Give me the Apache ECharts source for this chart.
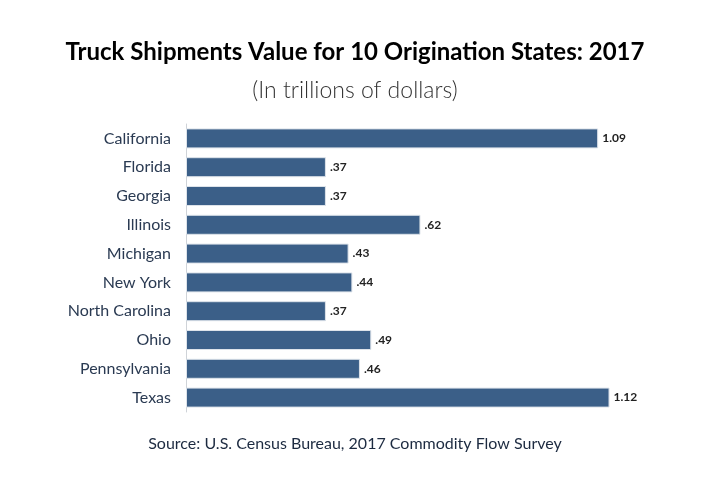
<!DOCTYPE html>
<html><head><meta charset="utf-8">
<script src="https://cdn.jsdelivr.net/npm/echarts@6/dist/echarts.min.js"></script>
<style>html,body{margin:0;padding:0;background:#fff}#c{width:710px;height:485px}</style>
</head><body><div id="c"></div>
<script>
const categories = ["California","Florida","Georgia","Illinois","Michigan","New York","North Carolina","Ohio","Pennsylvania","Texas"];
const values = [1.09,0.37,0.37,0.62,0.43,0.44,0.37,0.49,0.46,1.12];
const labels = ["1.09",".37",".37",".62",".43",".44",".37",".49",".46","1.12"];

const chart = echarts.init(document.getElementById('c'));
chart.setOption({
  animation:false,
  title:[
    {text:"Truck Shipments Value for 10 Origination States: 2017",left:'center',top:35,
     textStyle:{fontFamily:'Lato',fontWeight:'bold',fontSize:24,color:'#000'}},
    {text:"(In trillions of dollars)",left:'center',top:74,
     textStyle:{fontFamily:'Lato',fontWeight:300,fontSize:23,color:'#333'}},
    {text:"Source: U.S. Census Bureau, 2017 Commodity Flow Survey",left:'center',top:431,
     textStyle:{fontFamily:'Lato',fontWeight:'normal',fontSize:16,color:'#1c2a40'}}
  ],
  grid:{left:186,top:124,width:450,height:288,containLabel:false},
  xAxis:{type:'value',min:0,max:1.19,show:false},
  yAxis:{type:'category',data:categories,inverse:true,
    axisLine:{show:true,lineStyle:{color:'#cfd3d8',width:1}},
    axisTick:{show:false},
    axisLabel:{fontFamily:'Lato',fontSize:16,color:'#2a3a52',margin:15}},
  series:[{type:'bar',data:values,barWidth:20,
    itemStyle:{color:'#3b5f88',borderColor:'#dde3ea',borderWidth:1},
    label:{show:true,position:'right',distance:4,fontFamily:'Lato',fontWeight:'bold',fontSize:12,color:'#222',
      formatter:p=>labels[p.dataIndex]}}]
});
</script></body></html>
